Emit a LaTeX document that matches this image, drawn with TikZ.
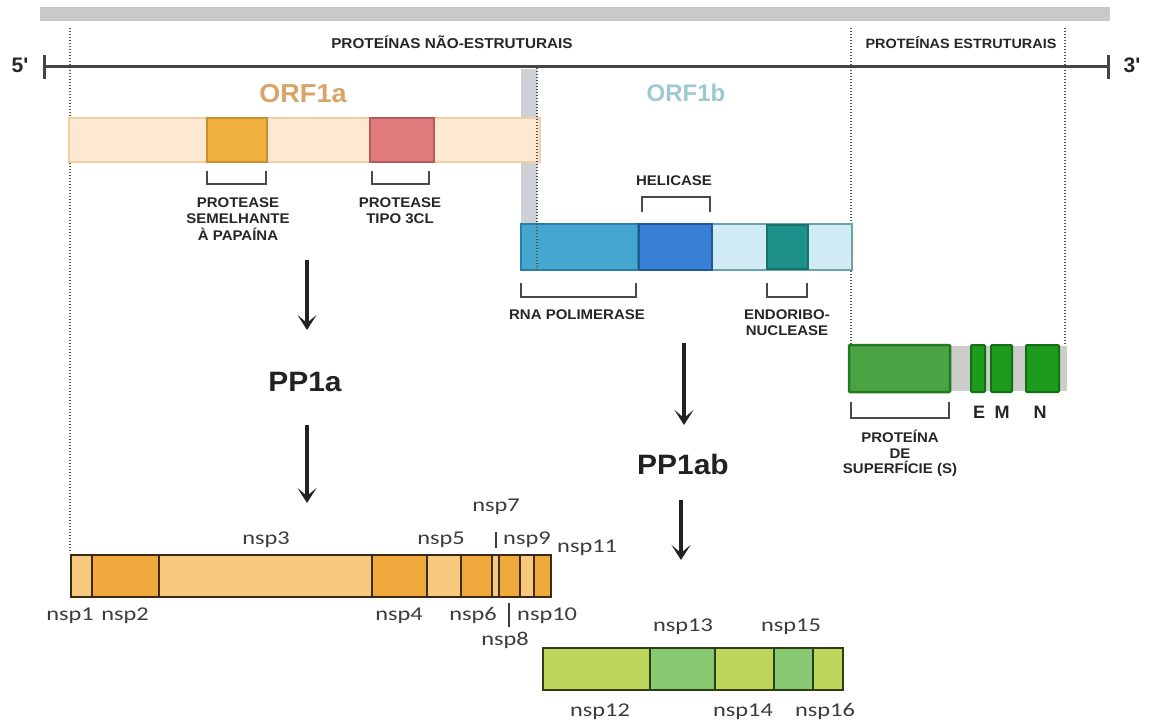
\documentclass[tikz,border=0pt]{standalone}
\usepackage{fontspec}
\setmainfont{Liberation Sans}
\newfontfamily\capf{Liberation Sans}[FakeStretch=1.07]
\newfontfamily\nspf{Carlito}[FakeStretch=1.25]
\newfontfamily\orfaf{Liberation Sans}[FakeStretch=1.04]
\newfontfamily\orfbf{Liberation Sans}[FakeStretch=1.0]
\newfontfamily\ppf{Liberation Sans}[FakeStretch=1.07]
\usetikzlibrary{arrows.meta}
\definecolor{topgray}{HTML}{C9C9C9}
\definecolor{mainline}{HTML}{454545}
\definecolor{dotc}{HTML}{555555}
\definecolor{brk}{HTML}{4A4A4A}
\definecolor{labc}{HTML}{262626}
\definecolor{nspc}{HTML}{3C3C3C}
\definecolor{orfa}{HTML}{D8A468}
\definecolor{orfb}{HTML}{9FC9D1}
\definecolor{peach}{HTML}{FDE9D3}
\definecolor{peachd}{HTML}{F2CFA2}
\definecolor{orsq}{HTML}{F0B13F}
\definecolor{orsqd}{HTML}{C98F2E}
\definecolor{rdsq}{HTML}{E07B7B}
\definecolor{rdsqd}{HTML}{B85A5A}
\definecolor{band}{HTML}{CDD0D4}
\definecolor{lblue}{HTML}{D0EBF3}
\definecolor{lblued}{HTML}{6AA3AD}
\definecolor{rnap}{HTML}{45A7D0}
\definecolor{rnapd}{HTML}{2B7EA6}
\definecolor{heli}{HTML}{3A81D5}
\definecolor{helid}{HTML}{1D5A9C}
\definecolor{endo}{HTML}{1F918B}
\definecolor{endod}{HTML}{17726C}
\definecolor{sgray}{HTML}{CCCCCC}
\definecolor{sgreen}{HTML}{4BA443}
\definecolor{sgreend}{HTML}{237A20}
\definecolor{dgreen}{HTML}{1D9B1D}
\definecolor{dgreend}{HTML}{127012}
\definecolor{nlight}{HTML}{F6C97F}
\definecolor{ndark}{HTML}{F0A93C}
\definecolor{nbord}{HTML}{3D2A10}
\definecolor{glight}{HTML}{BCD65C}
\definecolor{gmid}{HTML}{88C870}
\definecolor{gbord}{HTML}{2D3D15}
\definecolor{arrc}{HTML}{222222}
\tikzset{
  caplab/.style={font=\capf\bfseries\fontsize{14}{16}\selectfont, text=labc, inner sep=0pt, text height=10pt, text depth=0pt},
  seclab/.style={font=\capf\bfseries\fontsize{13.5}{16}\selectfont, text=labc, inner sep=0pt, text height=9.7pt, text depth=0pt},
  nsplab/.style={font=\nspf\fontsize{19.5}{22}\selectfont, text=nspc, inner sep=0pt, text height=12pt, text depth=4pt},
  pplab/.style={font=\ppf\bfseries\fontsize{28}{30}\selectfont, text=arrc, inner sep=0pt, text height=20pt, text depth=0pt},
  endlab/.style={font=\bfseries\fontsize{21}{23}\selectfont, text=labc, inner sep=0pt, text height=15pt, text depth=0pt},
  emnlab/.style={font=\bfseries\fontsize{18}{20}\selectfont, text=labc, inner sep=0pt, text height=13pt, text depth=0pt},
  bracket/.style={draw=brk, line width=2pt},
  dotline/.style={draw=dotc, line width=1.3pt, dash pattern=on 1.4pt off 1.6pt},
  bigarrow/.style={draw=arrc, line width=3.5pt, -{Stealth[length=15pt,width=19pt,inset=8pt]}},
  pointer/.style={draw=nspc, line width=1.4pt},
  nspseg/.style={draw=nbord, line width=2pt},
  gseg/.style={draw=gbord, line width=2pt},
}
\begin{document}
\begin{tikzpicture}[x=1pt,y=-1pt]
\useasboundingbox (0,0) rectangle (1151,725);
\fill[white] (0,0) rectangle (1151,725);

% top gray bar
\fill[topgray] (40,7) rectangle (1110,21);

% dotted guide lines
\draw[dotline] (70,28) -- (70,553);
\draw[dotline] (851,28) -- (851,345);
\draw[dotline] (1065,28) -- (1065,345);

% genome line
\draw[mainline, line width=3pt] (44,67) -- (1108,67);
\draw[mainline, line width=3pt] (44,55) -- (44,79);
\draw[mainline, line width=3pt] (1108,55) -- (1108,79);
\node[endlab] (five) at (20,65) {5\textquotesingle};
\node[endlab] (three) at (1132,65) {3\textquotesingle};

\node[seclab, font=\capf\bfseries\fontsize{14.3}{16}\selectfont] (nonstr) at (452,44) {PROTEÍNAS NÃO-ESTRUTURAIS};
\node[seclab] (str) at (961,44) {PROTEÍNAS ESTRUTURAIS};

% gray band between ORF1a and ORF1b
\fill[band] (521,69) rectangle (537,225);

% ORF1a
\node[font=\orfaf\bfseries\fontsize{26}{28}\selectfont, text=orfa, inner sep=0pt, text height=18.6pt, text depth=0pt] (orf1a) at (303,93) {ORF1a};
\filldraw[fill=peach, draw=peachd, line width=2pt] (69,118) rectangle (540,162);
\filldraw[fill=orsq, draw=orsqd, line width=1.5pt] (207,118) rectangle (267,162);
\filldraw[fill=rdsq, draw=rdsqd, line width=1.5pt] (370,118) rectangle (434,162);
\draw[bracket] (207,171) -- (207,184) -- (266,184) -- (266,171);
\draw[bracket] (372,171) -- (372,184) -- (429,184) -- (429,171);
\node[caplab] (pl1) at (238,202) {PROTEASE};
\node[caplab] (pl2) at (238,218) {SEMELHANTE};
\node[caplab] (pl3) at (238,235) {À PAPAÍNA};
\node[caplab] (tc1) at (400,202) {PROTEASE};
\node[caplab] (tc2) at (400,218) {TIPO 3CL};

% ORF1b
\node[font=\orfbf\bfseries\fontsize{24}{26}\selectfont, text=orfb, inner sep=0pt, text height=17.2pt, text depth=0pt] (orf1b) at (686,93) {ORF1b};
\node[caplab] (heli) at (674,180) {HELICASE};
\draw[bracket] (642,212) -- (642,197) -- (710,197) -- (710,212);
\filldraw[fill=lblue, draw=lblued, line width=1.5pt] (521,224) rectangle (852,270);
\filldraw[fill=rnap, draw=rnapd, line width=2pt] (521,224) rectangle (638,270);
\filldraw[fill=heli, draw=helid, line width=2.5pt] (639,224) rectangle (712,270);
\filldraw[fill=endo, draw=endod, line width=1.5pt] (767,225) rectangle (808,269);
\draw[bracket] (521,283) -- (521,297) -- (636,297) -- (636,283);
\draw[bracket] (767,283) -- (767,297) -- (807,297) -- (807,283);
\node[caplab] (rnal) at (577,314) {RNA POLIMERASE};
\node[caplab] (en1) at (787,314) {ENDORIBO-};
\node[caplab] (en2) at (787,330) {NUCLEASE};
\draw[dotline] (537,68) -- (537,270);

% structural proteins
\fill[sgray] (849,346) rectangle (1067,391);
\filldraw[fill=sgreen, draw=sgreend, line width=2.5pt, rounded corners=1pt] (849,345) rectangle (950,392);
\filldraw[fill=dgreen, draw=dgreend, line width=2pt, rounded corners=1pt] (971,345) rectangle (985,392);
\filldraw[fill=dgreen, draw=dgreend, line width=2pt, rounded corners=1pt] (991,345) rectangle (1012,392);
\filldraw[fill=dgreen, draw=dgreend, line width=2pt, rounded corners=1pt] (1026,345) rectangle (1059,392);
\draw[bracket] (851,402) -- (851,418) -- (949,418) -- (949,402);
\node[emnlab] (le) at (979,412) {E};
\node[emnlab] (lm) at (1002,412) {M};
\node[emnlab] (ln) at (1040,412) {N};
\node[caplab] (s1) at (900,437) {PROTEÍNA};
\node[caplab] (s2) at (900,453) {DE};
\node[caplab] (s3) at (900,468) {SUPERFÍCIE (S)};

% PP1a branch
\node[pplab] (pp1a) at (305,381) {PP1a};
\coordinate (a1s) at (307,260);
\coordinate (a1e) at (307,330);
\coordinate (a2s) at (307,425);
\coordinate (a2e) at (307,503);
\draw[bigarrow] (a1s) -- (a1e);
\draw[bigarrow] (a2s) -- (a2e);

% PP1ab branch
\node[pplab] (pp1ab) at (683,464) {PP1ab};
\coordinate (b1s) at (684,343);
\coordinate (b1e) at (684,425);
\coordinate (b2s) at (681,500);
\coordinate (b2e) at (681,560);
\draw[bigarrow] (b1s) -- (b1e);
\draw[bigarrow] (b2s) -- (b2e);

% nsp1-11 bar
\fill[nlight] (71,555) rectangle (92,597);
\fill[ndark] (92,555) rectangle (159,597);
\fill[nlight] (159,555) rectangle (372,597);
\fill[ndark] (372,555) rectangle (427,597);
\fill[nlight] (427,555) rectangle (461,597);
\fill[ndark] (461,555) rectangle (492,597);
\fill[nlight] (492,555) rectangle (499,597);
\fill[ndark] (499,555) rectangle (520,597);
\fill[nlight] (520,555) rectangle (534,597);
\fill[ndark] (534,555) rectangle (551,597);
\draw[nspseg] (71,555) rectangle (551,597);
\foreach \xx in {92,159,372,427,461,492,499,520,534}
  \draw[nspseg] (\xx,555) -- (\xx,597);

\node[nsplab] (n3) at (266,540) {nsp3};
\node[nsplab] (n5) at (441,540) {nsp5};
\node[nsplab] (n7) at (496,507) {nsp7};
\node[nsplab, anchor=west] (n9) at (503,540) {nsp9};
\node[nsplab, anchor=west] (n11) at (557,548) {nsp11};
\node[nsplab] (n1) at (70,616) {nsp1};
\node[nsplab] (n2) at (125,616) {nsp2};
\node[nsplab] (n4) at (399,616) {nsp4};
\node[nsplab] (n6) at (473,616) {nsp6};
\node[nsplab, anchor=west] (n10) at (517,616) {nsp10};
\node[nsplab] (n8) at (505,641) {nsp8};
\coordinate (p7a) at (496,532);
\coordinate (p7b) at (496,548);
\coordinate (p8a) at (509,603);
\coordinate (p8b) at (509,627);
\draw[pointer] (p7a) -- (p7b);
\draw[pointer] (p8a) -- (p8b);

% nsp12-16 bar
\fill[glight] (543,648) rectangle (650,690);
\fill[gmid] (650,648) rectangle (715,690);
\fill[glight] (715,648) rectangle (774,690);
\fill[gmid] (774,648) rectangle (813,690);
\fill[glight] (813,648) rectangle (843,690);
\draw[gseg] (543,648) rectangle (843,690);
\foreach \xx in {650,715,774,813}
  \draw[gseg] (\xx,648) -- (\xx,690);
\node[nsplab] (n13) at (683,627) {nsp13};
\node[nsplab] (n15) at (791,627) {nsp15};
\node[nsplab] (n12) at (600,712) {nsp12};
\node[nsplab] (n14) at (743,712) {nsp14};
\node[nsplab] (n16) at (825,712) {nsp16};
\end{tikzpicture}
\end{document}
